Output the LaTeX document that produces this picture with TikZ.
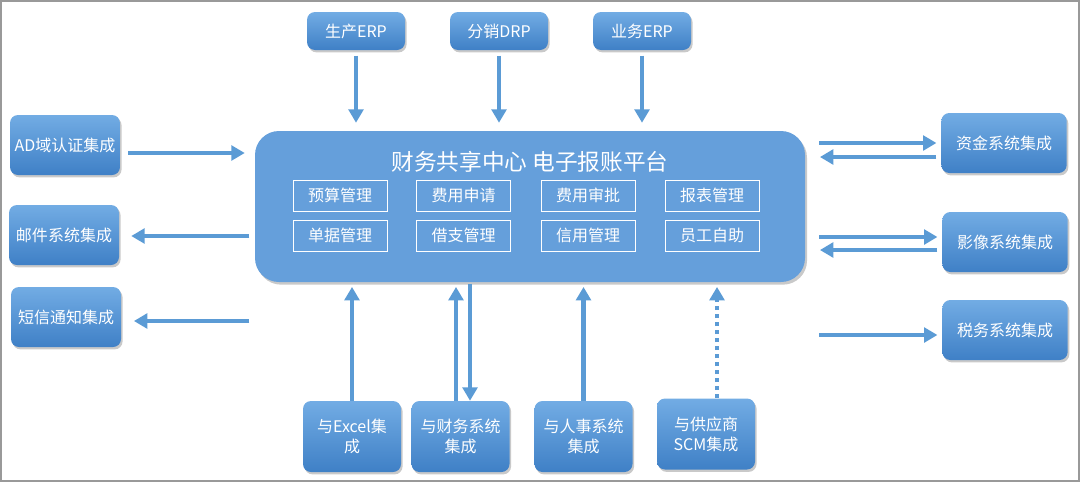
\documentclass[tikz,border=0pt]{standalone}
\usepackage{fontspec}
\setmainfont{Noto Sans CJK SC}
\usetikzlibrary{arrows.meta,calc,shadows}
\definecolor{boxtop}{HTML}{72ACE4}
\definecolor{boxbot}{HTML}{3F80C6}
\definecolor{mainblue}{HTML}{659FDB}
\definecolor{arrblue}{HTML}{5B9BD5}
\tikzset{
  sysbox/.style={rounded corners=6pt, top color=boxtop, bottom color=boxbot, draw=none,
    text=white, align=center, inner sep=1pt, font=\fontsize{12}{15}\selectfont,
    drop shadow={shadow xshift=1.2pt, shadow yshift=-1.8pt, opacity=0.3, fill=black!70}},
  subbox/.style={draw=white, line width=0.7pt, text=white, minimum width=70.5pt,
    minimum height=23.25pt, inner sep=0pt, font=\fontsize{12}{14}\selectfont},
  arr/.style={draw=arrblue, line width=3.6pt, -{Triangle[length=10pt,width=11pt]},
    shorten <=4pt, shorten >=6pt},
}
\begin{document}
\begin{tikzpicture}[x=0.75pt,y=-0.75pt]
\useasboundingbox (0,0) rectangle (1080,482);
\draw[gray!80, line width=1.5pt] (1,1) rectangle (1079,481);

% platform
\node[fill=mainblue, rounded corners=18pt, minimum width=412.5pt, minimum height=113.25pt,
  drop shadow={shadow xshift=1.5pt, shadow yshift=-2pt, opacity=0.3, fill=black!70}] (main) at (530,206.5) {};
\node[text=white, font=\fontsize{17}{20}\selectfont] (title) at (530,162) {财务共享中心 电子报账平台};
\node[subbox] (budget) at (340,195.5) {预算管理};
\node[subbox] (apply) at (463.5,195.5) {费用申请};
\node[subbox] (approve) at (588,195.5) {费用审批};
\node[subbox] (report) at (712,195.5) {报表管理};
\node[subbox] (bill) at (340,235.5) {单据管理};
\node[subbox] (loan) at (463.5,235.5) {借支管理};
\node[subbox] (credit) at (588,235.5) {信用管理};
\node[subbox] (self) at (712,235.5) {员工自助};

% top
\node[sysbox, minimum width=73.5pt, minimum height=28.5pt] (erp1) at (356,31) {生产ERP};
\node[sysbox, minimum width=73.5pt, minimum height=28.5pt] (drp) at (499,31) {分销DRP};
\node[sysbox, minimum width=73.5pt, minimum height=28.5pt] (erp2) at (642,31) {业务ERP};
\draw[arr] (erp1) -- (erp1 |- main.north);
\draw[arr] (drp) -- (drp |- main.north);
\draw[arr] (erp2) -- (erp2 |- main.north);

% left
\node[sysbox, minimum width=82.5pt, minimum height=45pt] (ad) at (65,145) {AD域认证集成};
\node[sysbox, minimum width=82.5pt, minimum height=45pt] (mail) at (64,235) {邮件系统集成};
\node[sysbox, minimum width=82.5pt, minimum height=45pt] (sms) at (66,317) {短信通知集成};
\coordinate (l1) at ($(ad.east)+(0,8)$);
\coordinate (l2) at ($(mail.east)+(0,1)$);
\coordinate (l3) at ($(sms.east)+(0,4)$);
\draw[arr, shorten <=6pt, shorten >=7.5pt] (l1) -- (l1 -| main.west);
\draw[arr, shorten >=9pt] (l2 -| main.west) -- (l2);
\draw[arr, shorten >=9.5pt] (l3 -| main.west) -- (l3);

% right
\node[sysbox, minimum width=94pt, minimum height=45pt] (fund) at (1004,143) {资金系统集成};
\node[sysbox, minimum width=94pt, minimum height=45pt] (image) at (1005,242) {影像系统集成};
\node[sysbox, minimum width=94pt, minimum height=45pt] (tax) at (1005,330) {税务系统集成};
\coordinate (r1) at ($(fund.west)+(0,14)$);
\coordinate (r2) at ($(image.west)+(0,-5)$);
\coordinate (r3) at ($(image.west)+(0,8)$);
\coordinate (r4) at ($(tax.west)+(0,5)$);
\draw[arr, shorten <=10.5pt, shorten >=3.5pt] (main.east |- fund) -- (fund);
\draw[arr, shorten <=3.5pt, shorten >=11pt] (r1) -- (r1 -| main.east);
\draw[arr, shorten <=10.5pt, shorten >=3.5pt] (r2 -| main.east) -- (r2);
\draw[arr, shorten <=3.5pt, shorten >=11pt] (r3) -- (r3 -| main.east);
\draw[arr, shorten <=10.5pt, shorten >=3.5pt] (r4 -| main.east) -- (r4);

% bottom
\node[sysbox, minimum width=73.5pt, minimum height=53.25pt] (excel) at (352,436.5) {与Excel集\\成};
\node[sysbox, minimum width=73.5pt, minimum height=53.25pt] (fin) at (460.5,436.5) {与财务系统\\集成};
\node[sysbox, minimum width=73.5pt, minimum height=53.25pt] (hr) at (583.5,436.5) {与人事系统\\集成};
\node[sysbox, minimum width=73.5pt, minimum height=53.25pt] (scm) at (706,434) {与供应商\\SCM集成};
\coordinate (b1) at ($(fin.north)+(-4.5,0)$);
\coordinate (b2) at ($(fin.north)+(9.5,0)$);
\coordinate (b3) at ($(scm.north)+(11,0)$);
\draw[arr, shorten <=0pt, shorten >=3.5pt] (excel) -- (excel |- main.south);
\draw[arr, shorten <=0pt, shorten >=3.5pt] (b1) -- (b1 |- main.south);
\draw[arr, shorten <=1pt, shorten >=0pt] (b2 |- main.south) -- (b2);
\draw[arr, shorten <=0pt, shorten >=3.5pt] (hr) -- (hr |- main.south);
\draw[arr, shorten <=0pt, shorten >=3.5pt, dash pattern=on 3pt off 3pt] (b3) -- (b3 |- main.south);
\end{tikzpicture}
\end{document}
